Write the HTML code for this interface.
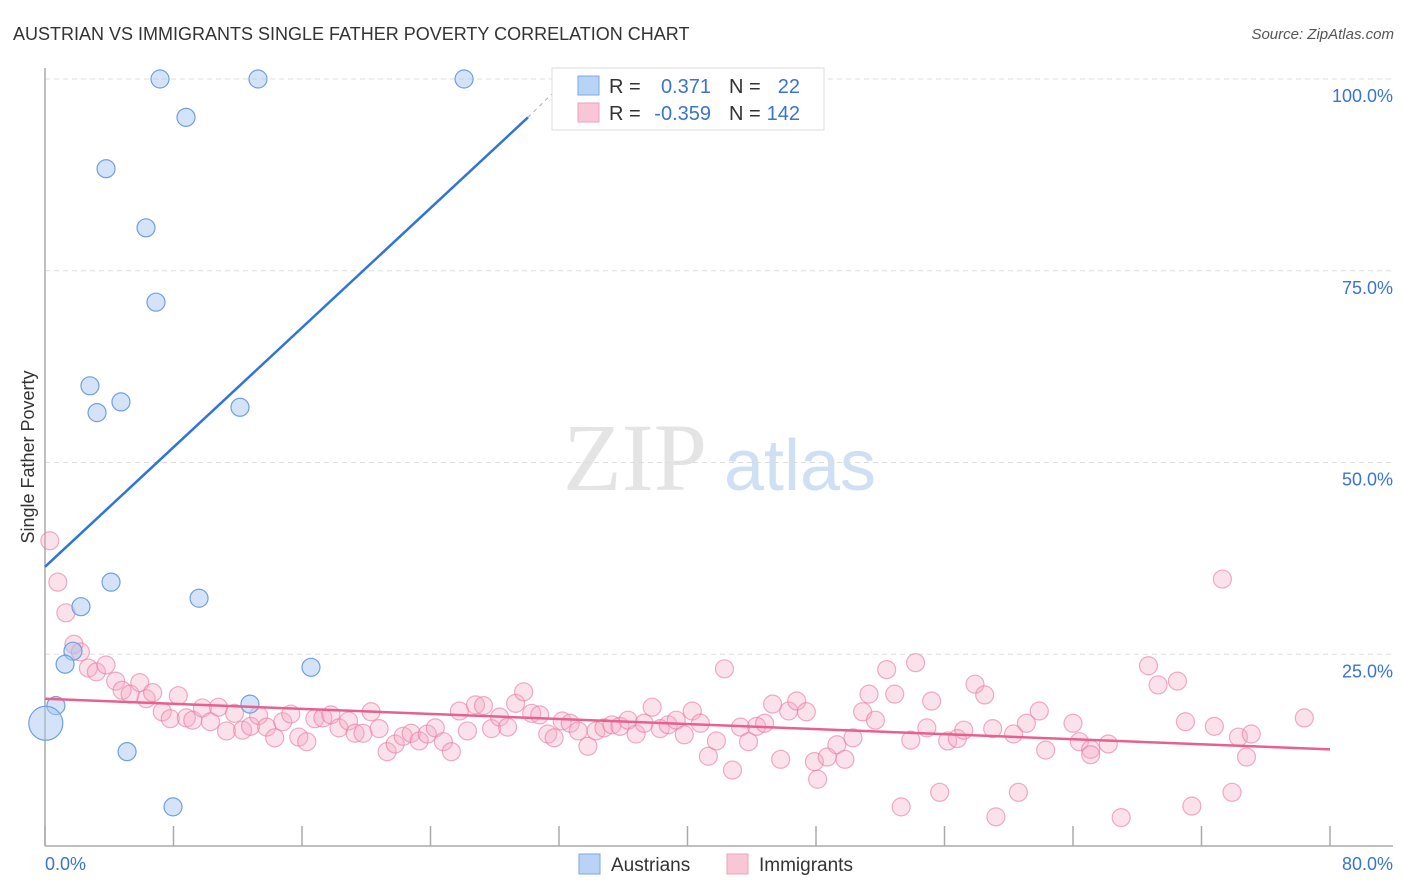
<!DOCTYPE html>
<html><head><meta charset="utf-8"><style>
body{margin:0;background:#fff;font-family:"Liberation Sans",sans-serif}
svg{display:block}
</style></head><body>
<svg id="chart" width="1406" height="892">
<text x="13" y="40" font-size="18" fill="#333">AUSTRIAN VS IMMIGRANTS SINGLE FATHER POVERTY CORRELATION CHART</text>
<text x="1394" y="39" font-size="15" fill="#555" font-style="italic" text-anchor="end">Source: ZipAtlas.com</text>
<text x="635" y="490" font-size="96" fill="#e4e4e4" font-family="Liberation Serif,serif" text-anchor="middle">ZIP</text>
<text x="800" y="490" font-size="72" fill="#cfe0f5" text-anchor="middle">atlas</text>
<g id="grid"></g><g id="axes"></g><g id="marks"></g>
<text transform="translate(34,457) rotate(-90)" font-size="18" fill="#333" text-anchor="middle">Single Father Poverty</text>
<g>
<rect x="552" y="68" width="272" height="62" fill="#fff" stroke="#ddd"/>
<rect x="578" y="76" width="21" height="19" fill="#b9d3f5" stroke="#7aaae8"/>
<rect x="578" y="103" width="21" height="19" fill="#f9c6d6" stroke="#f0a0bb"/>
<text x="609" y="93" font-size="20" fill="#333">R =</text><text x="711" y="93" font-size="20" fill="#3a74d0" text-anchor="end">0.371</text>
<text x="729" y="93" font-size="20" fill="#333">N =</text><text x="800" y="93" font-size="20" fill="#3a74d0" text-anchor="end">22</text>
<text x="609" y="120" font-size="20" fill="#333">R =</text><text x="711" y="120" font-size="20" fill="#3a74d0" text-anchor="end">-0.359</text>
<text x="729" y="120" font-size="20" fill="#333">N =</text><text x="800" y="120" font-size="20" fill="#3a74d0" text-anchor="end">142</text>
</g>
<g>
<rect x="579" y="854" width="21" height="20" fill="#b9d3f5" stroke="#7aaae8"/>
<text x="611" y="871" font-size="19" fill="#333">Austrians</text>
<rect x="727" y="854" width="21" height="20" fill="#f9c6d6" stroke="#f0a0bb"/>
<text x="759" y="871" font-size="19" fill="#333">Immigrants</text>
</g>
</svg>
<script>
const blueX=[7.16,13.26,26.09,8.78,3.80,6.29,6.91,2.80,4.73,3.24,12.14,4.11,2.24,9.59,1.74,1.25,16.56,0.68,12.76,5.11,7.97,0.05];
const blueY=[100,100,100,95.0,88.3,80.6,70.9,60.0,57.9,56.5,57.2,34.4,31.2,32.3,25.4,23.7,23.3,18.3,18.5,12.3,5.1,16.0];
const blueR=[9,9,9,9,9,9,9,9,9,9,9,9,9,9,9,9,9,9,9,9,9,17];
const pinkX=[0.3,0.8,1.3,1.8,2.2,2.7,3.2,3.8,4.4,4.8,5.3,5.9,6.3,6.7,7.3,7.8,8.3,8.8,9.2,9.8,10.3,10.8,11.3,11.8,12.3,12.8,13.3,13.8,14.3,14.8,15.3,15.8,16.3,16.8,17.3,17.8,18.3,18.9,19.3,19.8,20.3,20.8,21.3,21.8,22.3,22.8,23.3,23.8,24.3,24.8,25.3,25.8,26.3,26.8,27.3,27.8,28.3,28.8,29.3,29.8,30.3,30.8,31.3,31.7,32.2,32.7,33.2,33.8,34.3,34.8,35.3,35.8,36.3,36.8,37.3,37.8,38.3,38.8,39.3,39.8,40.3,40.8,41.3,41.8,42.3,42.8,43.3,43.8,44.3,44.8,45.3,45.8,46.3,46.8,47.4,47.9,48.1,48.7,49.3,49.8,50.3,50.9,51.3,51.7,52.4,52.9,53.3,53.9,54.2,54.9,55.7,56.2,56.8,57.2,57.9,58.5,59.0,59.2,60.3,60.6,61.1,61.9,62.3,64.0,64.4,65.1,65.1,66.2,67.0,68.7,69.3,70.5,71.0,71.4,72.8,73.3,73.9,74.3,74.8,75.1,78.4,55.2];
const pinkY=[39.8,34.4,30.4,26.3,25.3,23.2,22.7,23.6,21.5,20.3,19.8,21.3,19.2,20.0,17.5,16.6,19.6,16.7,16.4,18.0,16.2,18.1,15.0,17.3,15.1,15.6,17.0,15.5,14.1,16.2,17.2,14.2,13.6,16.6,16.7,17.1,15.4,16.3,14.7,14.7,17.5,15.3,12.3,13.3,14.3,14.7,13.7,14.6,15.4,13.6,12.3,17.6,15.0,18.4,18.3,15.3,16.8,15.5,18.6,20.1,17.3,17.1,14.6,14.1,16.3,16.0,15.0,13.0,15.0,15.4,15.8,15.6,16.4,14.6,16.0,18.1,15.3,15.8,16.4,14.5,17.6,16.0,11.7,13.7,23.1,9.9,15.5,13.6,15.6,16.0,18.5,11.3,17.6,18.9,17.5,11.0,8.7,11.6,13.2,11.3,14.1,17.5,19.8,16.4,23.0,19.8,5.1,13.8,23.9,15.4,7.0,13.7,14.0,15.1,21.1,19.7,15.3,3.8,14.6,7.0,16.0,17.6,12.5,16.0,13.6,12.6,11.9,13.3,3.7,23.5,21.0,21.5,16.2,5.2,15.6,34.8,7.0,14.2,11.6,14.6,16.7,18.9];
const blueTrendX=[0,30.07];
const blueTrendY=[36.4,95.0];
const blueDashX=[30.07,32.7];
const blueDashY=[95.0,100.4];
const pinkTrendX=[0,80];
const pinkTrendY=[19.2,12.6];
const yTicks=[25,50,75,100];
const yTickLabels=["25.0%","50.0%","75.0%","100.0%"];
const xTicks=[0,8,16,24,32,40,48,56,64,72,80];

const NS="http://www.w3.org/2000/svg";
const X0=45,X1=1330,Y0=846,Y100=79;
const sx=v=>X0+(v/80)*(X1-X0);
const sy=v=>Y0-(v/100)*(Y0-Y100);
function mk(tag,attrs,parent){const e=document.createElementNS(NS,tag);for(const k in attrs)e.setAttribute(k,attrs[k]);document.getElementById(parent).appendChild(e);return e;}
yTicks.forEach((t,i)=>{
  const l=mk('line',{x1:X0,x2:1393,y1:sy(t),y2:sy(t),stroke:'#ddd','stroke-dasharray':'5,4'},'grid');
  
  
  const tx=mk('text',{x:1393,y:sy(t)+23,'font-size':18,fill:'#3a74d0','text-anchor':'end'},'grid');
  tx.textContent=yTickLabels[i];
  
  
});
const ax=mk('line',{x1:X0,x2:X0,y1:68,y2:Y0,stroke:'#aaa','stroke-width':1.5},'axes');


const bx=mk('line',{x1:X0,x2:1393,y1:Y0,y2:Y0,stroke:'#aaa','stroke-width':1.5},'axes');


xTicks.forEach(t=>{
  const l=mk('line',{x1:sx(t),x2:sx(t),y1:826,y2:Y0,stroke:'#aaa','stroke-width':1.5},'axes');
  
  
});
const xl=mk('text',{x:45,y:870,'font-size':18,fill:'#3a74d0'},'axes');xl.textContent="0.0%";


const xr=mk('text',{x:1393,y:870,'font-size':18,fill:'#3a74d0','text-anchor':'end'},'axes');xr.textContent="80.0%";


pinkX.forEach((v,i)=>{
  const c=mk('circle',{cx:sx(v),cy:sy(pinkY[i]),r:9,fill:'rgba(244,170,195,0.35)',stroke:'rgba(232,120,160,0.6)','stroke-width':1.2},'marks');
  
  
});
blueX.forEach((v,i)=>{
  const c=mk('circle',{cx:sx(v),cy:sy(blueY[i]),r:blueR[i],fill:'rgba(170,200,240,0.5)',stroke:'#6fa0e0','stroke-width':1.2},'marks');
  
  
});
const pl=mk('line',{x1:sx(pinkTrendX[0]),y1:sy(pinkTrendY[0]),x2:sx(pinkTrendX[1]),y2:sy(pinkTrendY[1]),stroke:'#e8608e','stroke-width':2.5},'marks');


const bl=mk('line',{x1:sx(blueTrendX[0]),y1:sy(blueTrendY[0]),x2:sx(blueTrendX[1]),y2:sy(blueTrendY[1]),stroke:'#2f74d8','stroke-width':2.5},'marks');


const bd=mk('line',{x1:sx(blueDashX[0]),y1:sy(blueDashY[0]),x2:sx(blueDashX[1]),y2:sy(blueDashY[1]),stroke:'#aac','stroke-width':1,'stroke-dasharray':'4,4'},'marks');


</script>
</body></html>
